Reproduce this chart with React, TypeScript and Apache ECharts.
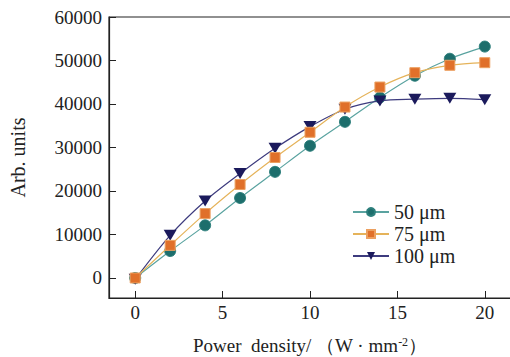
import React, { useEffect, useRef } from "react";
import * as echarts from "echarts";

const powerDensity = [0, 2, 4, 6, 8, 10, 12, 14, 16, 18, 20];
const s50 = [0, 6200, 12100, 18400, 24400, 30400, 35900, 41500, 46500, 50400, 53200];
const s75 = [0, 7500, 14800, 21500, 27700, 33500, 39300, 43900, 47200, 48900, 49500];
const s100 = [-300, 9800, 17700, 24000, 29800, 34800, 38800, 40700, 41100, 41300, 41000];
const xTicks = [0, 5, 10, 15, 20];
const yTicks = [0, 10000, 20000, 30000, 40000, 50000, 60000];

const FONT = "Liberation Serif";

export default function App() {
  const ref = useRef<HTMLDivElement>(null);
  useEffect(() => {
    const chart = echarts.init(ref.current!, undefined, { renderer: "svg" });
    const pts = (arr: number[]) => powerDensity.map((x, i) => [x, arr[i]]);
    const series: any[] = [
      {
        name: "50 μm",
        type: "line",
        data: pts(s50),
        smooth: 0.3,
        symbol: "circle",
        symbolSize: 11,
        itemStyle: { color: "#1d6e6c", borderColor: "#2d7f7c", borderWidth: 1 },
        lineStyle: { color: "#5aa3a0", width: 1.2 },
        z: 2,
      },
      {
        name: "100 μm",
        type: "line",
        data: pts(s100),
        smooth: 0.3,
        symbol: "triangle",
        symbolRotate: 180,
        symbolSize: [13, 11],
        itemStyle: { color: "#1b1a5c" },
        lineStyle: { color: "#3d3b7e", width: 1.2 },
        z: 3,
      },
      {
        name: "75 μm",
        type: "line",
        data: pts(s75),
        smooth: 0.3,
        symbol: "rect",
        symbolSize: 10,
        itemStyle: { color: "#e0702a", borderColor: "#eca060", borderWidth: 1 },
        lineStyle: { color: "#e5b35a", width: 1.2 },
        z: 4,
      },
    ];
    chart.setOption({
      animation: false,
      backgroundColor: "#ffffff",
      textStyle: { fontFamily: FONT },
      grid: {
        left: 109,
        top: 17,
        right: -1,
        bottom: 59,
        outerBoundsMode: "none",
        containLabel: false,
        show: true,
        borderColor: "#222",
        borderWidth: 1.2,
      },
      legend: {
        data: ["50 μm", "75 μm", "100 μm"],
        orient: "vertical",
        left: 347,
        top: 197,
        itemWidth: 36,
        itemHeight: 10,
        itemGap: 2,
        textStyle: { fontFamily: FONT, fontSize: 20, color: "#222" },
      },
      xAxis: {
        type: "value",
        min: -1.5,
        max: 21.5,
        name: "Power  density/ （W · mm{sup|-2}）",
        nameLocation: "middle",
        nameGap: 38,
        nameTextStyle: {
          fontFamily: FONT,
          fontSize: 19,
          lineHeight: 19,
          color: "#222",
          rich: { sup: { fontSize: 12, lineHeight: 19, verticalAlign: "top", fontFamily: FONT, color: "#222" } },
        },
        axisLine: { show: true, onZero: false, lineStyle: { color: "#222", width: 1.2 } },
        axisTick: { show: true, inside: true, length: 7, customValues: xTicks, lineStyle: { color: "#222" } },
        axisLabel: { customValues: xTicks, fontFamily: FONT, fontSize: 19, color: "#222", margin: 5 },
        splitLine: { show: false },
      },
      yAxis: {
        type: "value",
        min: -4600,
        max: 60000,
        name: "Arb. units",
        nameLocation: "middle",
        nameGap: 81,
        nameTextStyle: { fontFamily: FONT, fontSize: 20, color: "#222" },
        axisLine: { show: true, onZero: false, lineStyle: { color: "#222", width: 1.2 } },
        axisTick: { show: true, inside: true, length: 7, customValues: yTicks, lineStyle: { color: "#222" } },
        axisLabel: {
          customValues: yTicks,
          formatter: (v: number) => String(v),
          fontFamily: FONT,
          fontSize: 19,
          color: "#222",
          margin: 7,
        },
        splitLine: { show: false },
      },
      series,
    });
    return () => chart.dispose();
  }, []);
  return <div ref={ref} style={{ width: 510, height: 357, position: "fixed", left: 0, top: 0 }} />;
}
